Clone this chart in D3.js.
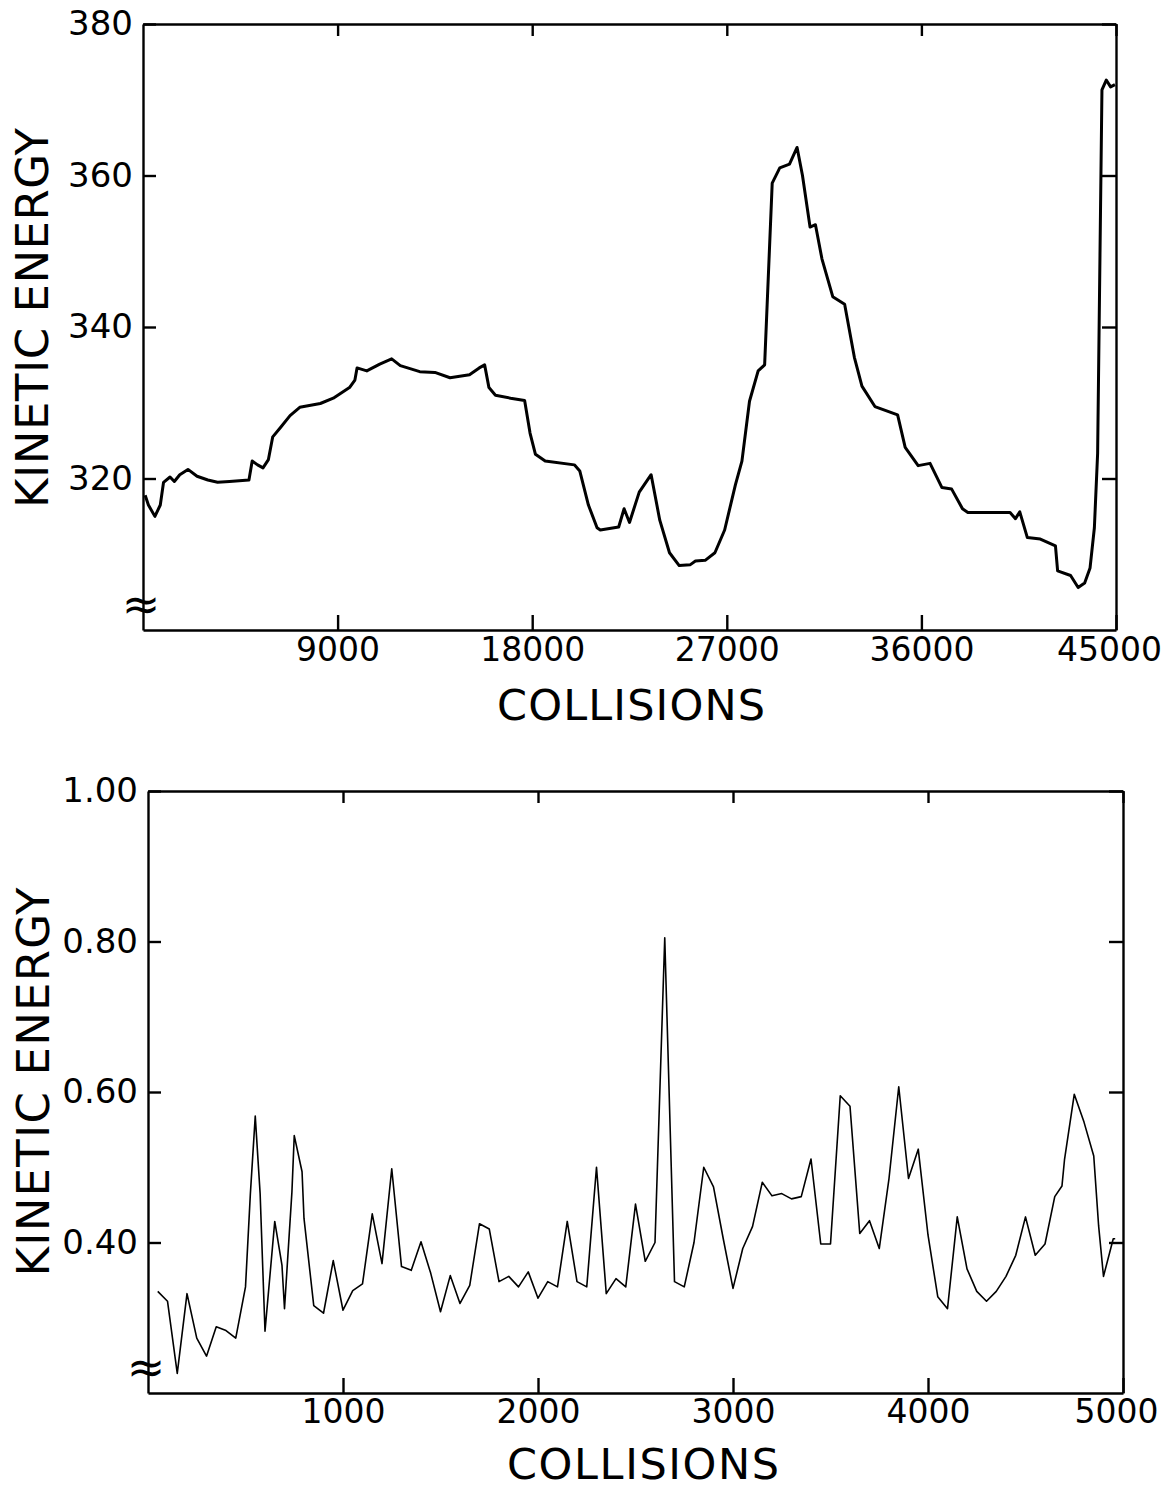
<!DOCTYPE html>
<html>
<head>
<meta charset="utf-8">
<script src="https://cdn.jsdelivr.net/npm/d3@7"></script>
<style>
  body { margin: 0; background: #fff; }
  svg { display: block; background: #fff; }
  .axis path, .axis line { stroke: #000; stroke-width: 2.4; }
  .axis text { font-family: "DejaVu Sans", sans-serif; fill: #000; }
</style>
</head>
<body>
<div id="chart"></div>
<script>
// upper panel: kinetic energy over 45000 collisions
const topCollisions = [100, 250, 550, 800, 950, 1250, 1450, 1700, 2080, 2500, 3000, 3450, 4000, 4900,
  5050, 5300, 5550, 5800, 6000, 6350, 6800, 7250, 8200, 8800, 9550, 9800, 9900, 10350, 10950, 11500,
  11900, 12800, 13500, 14200, 15100, 15550, 15800, 16000, 16300, 17000, 17650, 17900, 18150, 18600,
  19950, 20200, 20600, 21000, 21150, 22000, 22250, 22500, 22950, 23500, 23900, 24350, 24800, 25300,
  25550, 26000, 26450, 26900, 27400, 27700, 28050, 28450, 28750, 29100, 29450, 29900, 30250, 30500,
  30850, 31100, 31400, 31900, 32450, 32900, 33250, 33850, 34900, 35250, 35850, 36400, 36950, 37400,
  37900, 38150, 40100, 40350, 40550, 40900, 41500, 42200, 42300, 42900, 43250, 43550, 43800, 44000,
  44150, 44350, 44550, 44750, 44950];
const topEnergy = [317.8, 316.5, 315.0, 316.5, 319.5, 320.2, 319.6, 320.5, 321.2, 320.3, 319.8, 319.5, 319.6, 319.8,
  322.3, 321.8, 321.4, 322.5, 325.5, 326.7, 328.3, 329.4, 329.9, 330.6, 332.0, 333.0, 334.6, 334.2, 335.1, 335.8,
  334.9, 334.1, 334.0, 333.3, 333.7, 334.6, 335.0, 332.0, 331.0, 330.6, 330.3, 326.0, 323.2, 322.3,
  321.8, 321.0, 316.5, 313.5, 313.2, 313.6, 316.0, 314.2, 318.2, 320.5, 314.5, 310.2, 308.5, 308.6,
  309.1, 309.2, 310.2, 313.2, 319.2, 322.3, 330.2, 334.2, 335.0, 359.0, 361.0, 361.5, 363.7, 360.0,
  353.2, 353.5, 349.0, 344.0, 343.0, 336.0, 332.2, 329.5, 328.4, 324.1, 321.7, 322.0, 318.8, 318.6,
  316.0, 315.5, 315.5, 314.7, 315.6, 312.2, 312.0, 311.1, 307.8, 307.2, 305.6, 306.2, 308.2, 313.5,
  323.3, 371.3, 372.6, 371.7, 372.0];
const topXTicks = [9000, 18000, 27000, 36000, 45000];
const topYTicks = [320, 340, 360, 380];

// lower panel: kinetic energy over 5000 collisions
const lowCollisions = [50, 100, 150, 200, 250, 300, 350, 400, 450, 500, 525, 550, 575, 600, 650, 687, 700, 738,
  750, 790, 800, 850, 900, 950, 1000, 1050, 1100, 1150, 1200, 1250, 1300, 1350, 1400, 1450, 1500, 1550,
  1600, 1650, 1700, 1750, 1800, 1850, 1900, 1950, 2000, 2050, 2100, 2150, 2200, 2250, 2300, 2350, 2400,
  2450, 2500, 2550, 2600, 2650, 2700, 2750, 2800, 2850, 2900, 2950, 3000, 3050, 3100, 3150, 3200, 3250,
  3300, 3350, 3400, 3450, 3500, 3550, 3600, 3650, 3700, 3750, 3800, 3850, 3900, 3950, 4000, 4050, 4100,
  4150, 4200, 4250, 4300, 4350, 4400, 4450, 4500, 4550, 4600, 4650, 4687, 4700, 4750, 4800, 4850, 4875,
  4900, 4950, 4960];
const lowEnergy = [0.335, 0.322, 0.226, 0.332, 0.273, 0.249, 0.288, 0.283, 0.273, 0.341, 0.465, 0.568, 0.465, 0.282,
  0.428, 0.370, 0.312, 0.467, 0.542, 0.494, 0.432, 0.316, 0.306, 0.376, 0.310, 0.336, 0.345, 0.438, 0.372,
  0.498, 0.368, 0.363, 0.401, 0.359, 0.308, 0.356, 0.319, 0.343, 0.425, 0.418, 0.348, 0.355, 0.341, 0.361,
  0.326, 0.348, 0.341, 0.428, 0.348, 0.341, 0.500, 0.332, 0.352, 0.341, 0.451, 0.375, 0.400, 0.805, 0.348,
  0.341, 0.400, 0.500, 0.474, 0.405, 0.339, 0.392, 0.421, 0.480, 0.462, 0.465, 0.458, 0.461, 0.511, 0.398,
  0.398, 0.595, 0.581, 0.412, 0.429, 0.392, 0.485, 0.607, 0.485, 0.524, 0.410, 0.328, 0.312, 0.434, 0.365,
  0.335, 0.322, 0.335, 0.355, 0.383, 0.434, 0.383, 0.398, 0.461, 0.475, 0.510, 0.597, 0.560, 0.515, 0.422,
  0.355, 0.405, 0.405];
const lowXTicks = [1000, 2000, 3000, 4000, 5000];
const lowYTicks = [0.40, 0.60, 0.80, 1.00];

const svg = d3.select("#chart").append("svg")
  .attr("width", 1167)
  .attr("height", 1488);

function drawPanel(cfg) {
  const x = d3.scaleLinear().domain(cfg.xDomain).range([cfg.left, cfg.right]);
  const y = d3.scaleLinear().domain(cfg.yDomain).range([cfg.bottom, cfg.top]);
  const g = svg.append("g");

  const lastX = cfg.xTicks[cfg.xTicks.length - 1];
  g.append("g").attr("class", "axis")
    .attr("transform", `translate(0, ${cfg.bottom})`)
    .call(d3.axisBottom(x).tickValues(cfg.xTicks).tickFormat(d3.format("d"))
      .tickSizeInner(-15).tickSizeOuter(0).tickPadding(cfg.xPad))
    .selectAll("text")
    .style("font-size", "33px")
    .attr("dx", d => d === lastX ? -7 : 0);

  g.append("g").attr("class", "axis")
    .attr("transform", `translate(0, ${cfg.top})`)
    .call(d3.axisTop(x).tickValues(cfg.xTicks).tickFormat("")
      .tickSizeInner(-12).tickSizeOuter(0));

  g.append("g").attr("class", "axis")
    .attr("transform", `translate(${cfg.left}, 0)`)
    .call(d3.axisLeft(y).tickValues(cfg.yTicks).tickFormat(cfg.yFormat)
      .tickSizeInner(-13).tickSizeOuter(0).tickPadding(10))
    .selectAll("text").style("font-size", "34px");

  g.append("g").attr("class", "axis")
    .attr("transform", `translate(${cfg.right}, 0)`)
    .call(d3.axisRight(y).tickValues(cfg.yTicks).tickFormat("")
      .tickSizeInner(-14).tickSizeOuter(0));

  // axis break mark
  g.append("text")
    .attr("x", cfg.left - 2)
    .attr("y", y(cfg.breakAt))
    .attr("text-anchor", "middle")
    .attr("dominant-baseline", "middle")
    .style("font-family", "DejaVu Sans, sans-serif")
    .style("font-size", "46px")
    .text("≈");

  const line = d3.line()
    .x((d, i) => x(cfg.xs[i]))
    .y(d => y(d));

  g.append("path")
    .datum(cfg.ys)
    .attr("fill", "none")
    .attr("stroke", "#000")
    .attr("stroke-width", cfg.lineWidth)
    .attr("stroke-linejoin", "round")
    .attr("d", line);

  g.append("text")
    .attr("transform", `translate(${cfg.yTitleX}, ${(cfg.top + cfg.bottom) / 2 + cfg.yTitleShift}) rotate(-90)`)
    .attr("text-anchor", "middle")
    .attr("dominant-baseline", "middle")
    .attr("textLength", cfg.yTitleLen)
    .attr("lengthAdjust", "spacing")
    .style("font-family", "DejaVu Sans, sans-serif")
    .style("font-size", "45px")
    .text("KINETIC ENERGY");

  g.append("text")
    .attr("x", cfg.xTitleX)
    .attr("y", cfg.xTitleY)
    .attr("text-anchor", "middle")
    .attr("textLength", cfg.xTitleLen)
    .attr("lengthAdjust", "spacing")
    .style("font-family", "DejaVu Sans, sans-serif")
    .style("font-size", "43px")
    .text("COLLISIONS");
}

drawPanel({
  xs: topCollisions, ys: topEnergy,
  xDomain: [0, 45000], yDomain: [300, 380],
  left: 143, right: 1116, top: 24, bottom: 630,
  xTicks: topXTicks, yTicks: topYTicks,
  yFormat: d3.format("d"), xPad: 8,
  breakAt: 303, lineWidth: 3,
  yTitleX: 36, yTitleShift: -9, yTitleLen: 380,
  xTitleX: 631, xTitleY: 720, xTitleLen: 268
});

drawPanel({
  xs: lowCollisions, ys: lowEnergy,
  xDomain: [0, 5000], yDomain: [0.2, 1.0],
  left: 148, right: 1123, top: 791, bottom: 1393,
  xTicks: lowXTicks, yTicks: lowYTicks,
  yFormat: d3.format(".2f"), xPad: 7,
  breakAt: 0.23, lineWidth: 1.6,
  yTitleX: 37, yTitleShift: -10, yTitleLen: 389,
  xTitleX: 643, xTitleY: 1479, xTitleLen: 272
});
</script>
</body>
</html>
